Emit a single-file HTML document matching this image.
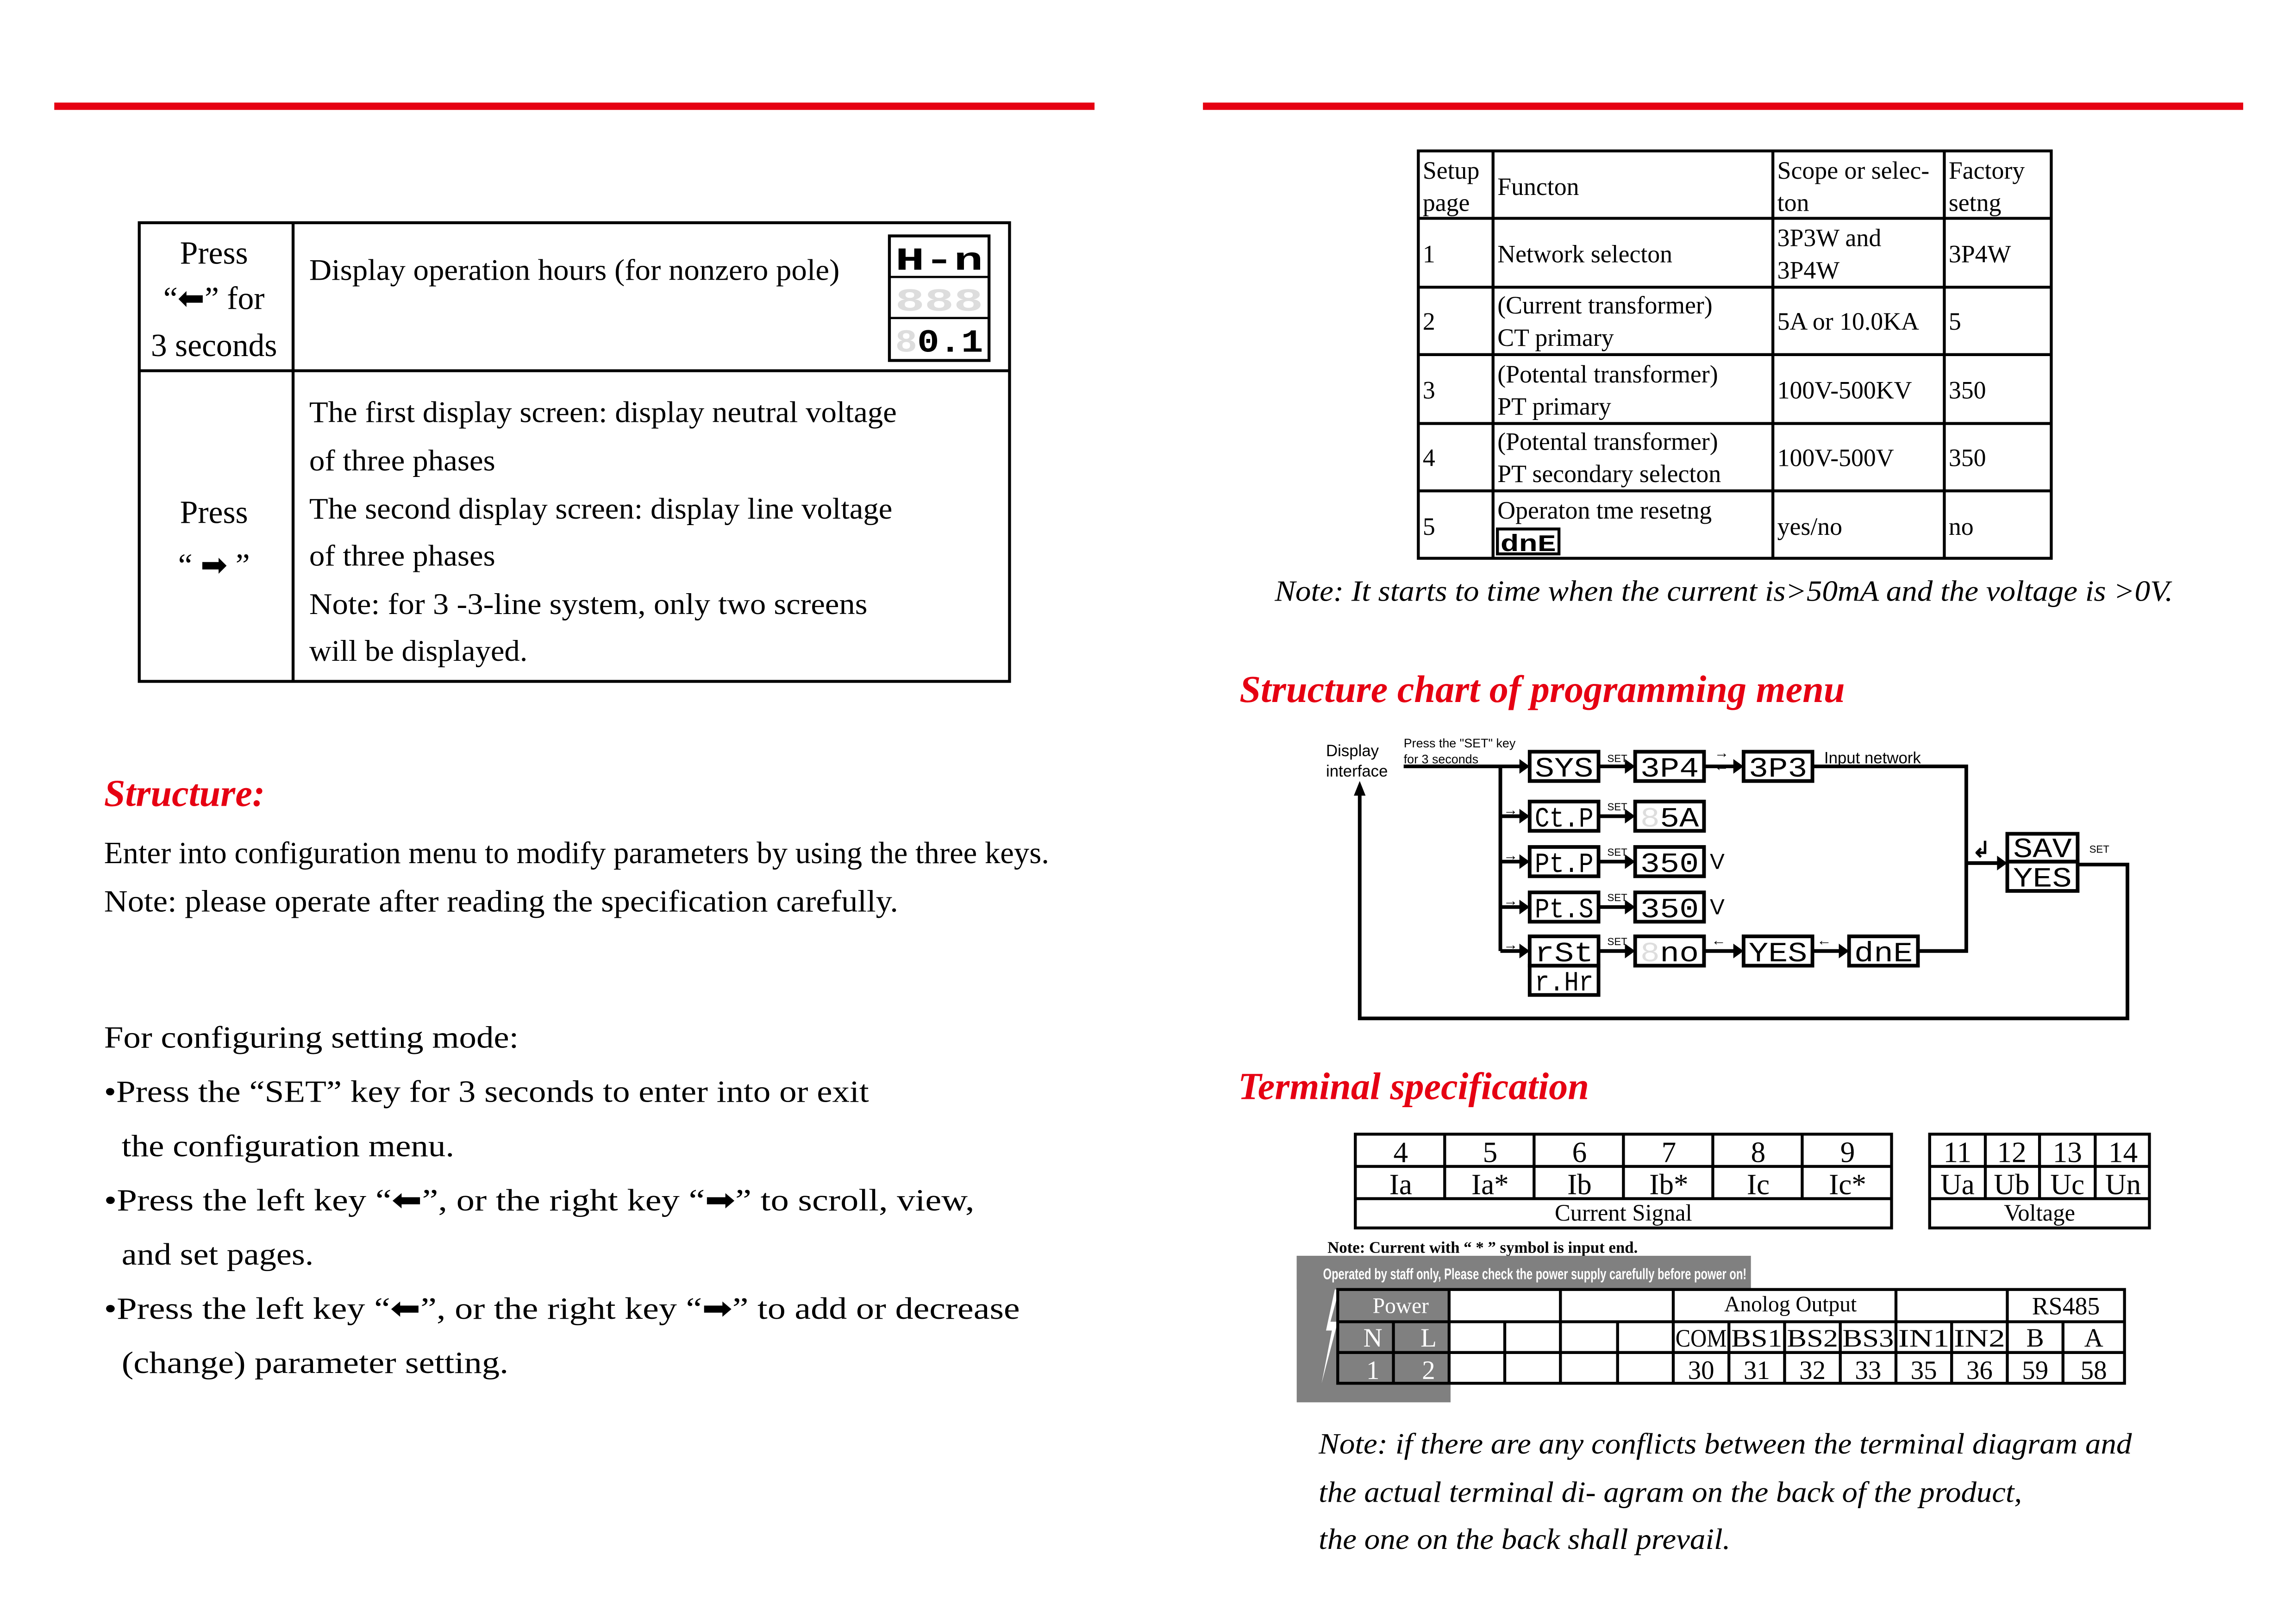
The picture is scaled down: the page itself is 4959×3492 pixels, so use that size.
<!DOCTYPE html>
<html><head><meta charset="utf-8"><style>html,body{margin:0;padding:0;background:#fff}svg{display:block}</style></head>
<body>
<svg xmlns="http://www.w3.org/2000/svg" width="4959" height="3492" viewBox="0 0 1567 1103.5">
<rect width="1567" height="1103.5" fill="#fff"/>
<g fill="#e60012"><rect x="37" y="70" width="710" height="5"/><rect x="821" y="70" width="710" height="5"/></g>

<g font-family="Liberation Serif, serif" fill="#000">
<g fill="none" stroke="#000" stroke-width="2"><rect x="95" y="152" width="594" height="313"/><line x1="200" y1="152" x2="200" y2="465"/><line x1="95" y1="253" x2="689" y2="253"/></g>
<g font-size="22" text-anchor="middle">
<text x="146" y="180">Press</text>
<text x="146" y="211">“⬅” for</text>
<text x="146" y="243">3 seconds</text>
<text x="146" y="357">Press</text>
<text x="146" y="393">“ ➡ ”</text>
</g>
<g font-size="20.5">
<text x="211" y="191" textLength="362" lengthAdjust="spacingAndGlyphs">Display operation hours (for nonzero pole)</text>
<text x="211" y="288" textLength="401" lengthAdjust="spacingAndGlyphs">The first display screen: display neutral voltage</text>
<text x="211" y="321" textLength="127" lengthAdjust="spacingAndGlyphs">of three phases</text>
<text x="211" y="354" textLength="398" lengthAdjust="spacingAndGlyphs">The second display screen: display line voltage</text>
<text x="211" y="386" textLength="127" lengthAdjust="spacingAndGlyphs">of three phases</text>
<text x="211" y="419" textLength="381" lengthAdjust="spacingAndGlyphs">Note: for 3   -3-line system, only two screens</text>
<text x="211" y="451" textLength="149" lengthAdjust="spacingAndGlyphs">will be displayed.</text>
</g>
<g><rect x="607" y="161" width="68" height="85" fill="none" stroke="#000" stroke-width="2"/>
<line x1="607" y1="189" x2="675" y2="189" stroke="#000" stroke-width="1.5"/><line x1="607" y1="217" x2="675" y2="217" stroke="#000" stroke-width="1.5"/>
<g font-family="Liberation Mono, monospace" font-weight="bold" font-size="22" text-anchor="middle">
<text x="641" y="184" textLength="60" lengthAdjust="spacingAndGlyphs">H-n</text>
<text x="641" y="212" fill="#ddd" textLength="60" lengthAdjust="spacingAndGlyphs">888</text>
<text x="641" y="240" textLength="60" lengthAdjust="spacingAndGlyphs"><tspan fill="#ddd">8</tspan>0.1</text>
</g></g>

<text x="71" y="550" font-size="26" font-weight="bold" font-style="italic" fill="#e60012">Structure:</text>
<g font-size="21">
<text x="71" y="589" textLength="645" lengthAdjust="spacingAndGlyphs">Enter into configuration menu to modify parameters by using the three keys.</text>
<text x="71" y="622" textLength="542" lengthAdjust="spacingAndGlyphs">Note: please operate after reading the specification carefully.</text>
<text x="71" y="715" textLength="283" lengthAdjust="spacingAndGlyphs">For configuring setting mode:</text>
<text x="71" y="752" textLength="522" lengthAdjust="spacingAndGlyphs">•Press the “SET” key for 3 seconds to enter into or exit</text>
<text x="83" y="789" textLength="227" lengthAdjust="spacingAndGlyphs">the configuration menu.</text>
<text x="71" y="826" textLength="594" lengthAdjust="spacingAndGlyphs">•Press the  left  key “⬅”, or  the right key “➡”  to scroll, view,</text>
<text x="83" y="863" textLength="131" lengthAdjust="spacingAndGlyphs">and set pages.</text>
<text x="71" y="900" textLength="625" lengthAdjust="spacingAndGlyphs">•Press the  left  key “⬅”, or  the right key “➡”  to add or decrease</text>
<text x="83" y="937" textLength="264" lengthAdjust="spacingAndGlyphs">(change)  parameter setting.</text>
</g>

<g fill="none" stroke="#000" stroke-width="2">
<rect x="968" y="103" width="432" height="278"/>
<line x1="1019" y1="103" x2="1019" y2="381"/><line x1="1210" y1="103" x2="1210" y2="381"/><line x1="1327" y1="103" x2="1327" y2="381"/>
<line x1="968" y1="149" x2="1400" y2="149"/><line x1="968" y1="196" x2="1400" y2="196"/><line x1="968" y1="242" x2="1400" y2="242"/><line x1="968" y1="289" x2="1400" y2="289"/><line x1="968" y1="335" x2="1400" y2="335"/>
</g>
<g font-size="17">
<text x="971" y="122">Setup</text><text x="971" y="144">page</text>
<text x="1022" y="133">Functon</text>
<text x="1213" y="122">Scope or selec-</text><text x="1213" y="144">ton</text>
<text x="1330" y="122">Factory</text><text x="1330" y="144">setng</text>
<text x="971" y="179">1</text><text x="1022" y="179">Network selecton</text><text x="1213" y="168">3P3W and</text><text x="1213" y="190">3P4W</text><text x="1330" y="179">3P4W</text>
<text x="971" y="225">2</text><text x="1022" y="214">(Current transformer)</text><text x="1022" y="236">CT primary</text><text x="1213" y="225">5A or 10.0KA</text><text x="1330" y="225">5</text>
<text x="971" y="272">3</text><text x="1022" y="261">(Potental transformer)</text><text x="1022" y="283">PT primary</text><text x="1213" y="272">100V-500KV</text><text x="1330" y="272">350</text>
<text x="971" y="318">4</text><text x="1022" y="307">(Potental transformer)</text><text x="1022" y="329">PT secondary selecton</text><text x="1213" y="318">100V-500V</text><text x="1330" y="318">350</text>
<text x="971" y="365">5</text><text x="1022" y="354">Operaton tme resetng</text><text x="1213" y="365">yes/no</text><text x="1330" y="365">no</text>
</g>
<rect x="1022" y="361" width="42" height="17" fill="none" stroke="#000" stroke-width="2"/>
<text x="1043" y="376" font-family="Liberation Mono, monospace" font-weight="bold" font-size="16" text-anchor="middle" textLength="38" lengthAdjust="spacingAndGlyphs">dnE</text>
<text x="870" y="410" font-size="20" font-style="italic" textLength="613" lengthAdjust="spacingAndGlyphs">Note: It starts to time when the current is&gt;50mA and the voltage is &gt;0V.</text>

<text x="846" y="479" font-size="26" font-weight="bold" font-style="italic" fill="#e60012">Structure chart of programming menu</text>
<text x="845" y="750" font-size="26" font-weight="bold" font-style="italic" fill="#e60012">Terminal specification</text>
</g>

<g font-family="Liberation Sans, sans-serif">
<g stroke="#000" stroke-width="2.5" fill="none">
<polyline points="958,523 1040,523"/>
<line x1="1024" y1="523" x2="1024" y2="649"/>
<line x1="1024" y1="557" x2="1040" y2="557"/><line x1="1024" y1="588" x2="1040" y2="588"/><line x1="1024" y1="619" x2="1040" y2="619"/><line x1="1024" y1="649" x2="1040" y2="649"/>
<line x1="1091" y1="523" x2="1112" y2="523"/><line x1="1163" y1="523" x2="1186" y2="523"/>
<polyline points="1237,523 1342,523 1342,649 1309,649"/>
<line x1="1091" y1="557" x2="1112" y2="557"/><line x1="1091" y1="588" x2="1112" y2="588"/><line x1="1091" y1="619" x2="1112" y2="619"/><line x1="1091" y1="649" x2="1112" y2="649"/>
<line x1="1163" y1="649" x2="1186" y2="649"/><line x1="1237" y1="649" x2="1258" y2="649"/>
<line x1="1342" y1="589" x2="1366" y2="589"/>
<polyline points="1418,590 1452,590 1452,695 928,695 928,540"/>
</g>
<g fill="#000">
<polygon points="1044,523 1037,518 1037,528"/>
<polygon points="1044,557 1037,552 1037,562"/><polygon points="1044,588 1037,583 1037,593"/><polygon points="1044,619 1037,614 1037,624"/><polygon points="1044,649 1037,644 1037,654"/>
<polygon points="1116,523 1109,518 1109,528"/><polygon points="1190,523 1183,518 1183,528"/>
<polygon points="1116,557 1109,552 1109,562"/><polygon points="1116,588 1109,583 1109,593"/><polygon points="1116,619 1109,614 1109,624"/><polygon points="1116,649 1109,644 1109,654"/>
<polygon points="1190,649 1183,644 1183,654"/><polygon points="1262,649 1255,644 1255,654"/>
<polygon points="1370,589 1363,584 1363,594"/>
<polygon points="928,533 924,543 932,543"/>
</g>
<g fill="none" stroke="#000" stroke-width="2.5">
<rect x="1044" y="513" width="47" height="20"/><rect x="1116" y="513" width="47" height="20"/><rect x="1190" y="513" width="47" height="20"/>
<rect x="1044" y="547" width="47" height="20"/><rect x="1116" y="547" width="47" height="20"/>
<rect x="1044" y="578" width="47" height="20"/><rect x="1116" y="578" width="47" height="20"/>
<rect x="1044" y="609" width="47" height="20"/><rect x="1116" y="609" width="47" height="20"/>
<rect x="1044" y="639" width="47" height="20"/><rect x="1044" y="659" width="47" height="20"/>
<rect x="1116" y="639" width="47" height="20"/><rect x="1190" y="639" width="47" height="20"/><rect x="1262" y="639" width="47" height="20"/>
<rect x="1370" y="569" width="48" height="19"/><rect x="1370" y="588" width="48" height="20"/>
</g>
<g font-family="Liberation Mono, monospace" font-size="19" text-anchor="middle" fill="#000">
<text x="1067.5" y="530" textLength="40" lengthAdjust="spacingAndGlyphs">SYS</text>
<text x="1139.5" y="530" textLength="40" lengthAdjust="spacingAndGlyphs">3P4</text>
<text x="1213.5" y="530" textLength="40" lengthAdjust="spacingAndGlyphs">3P3</text>
<text x="1067.5" y="564" textLength="40" lengthAdjust="spacingAndGlyphs">Ct.P</text>
<text x="1139.5" y="564" textLength="40" lengthAdjust="spacingAndGlyphs"><tspan fill="#ddd">8</tspan>5A</text>
<text x="1067.5" y="595" textLength="40" lengthAdjust="spacingAndGlyphs">Pt.P</text>
<text x="1139.5" y="595" textLength="40" lengthAdjust="spacingAndGlyphs">350</text>
<text x="1067.5" y="626" textLength="40" lengthAdjust="spacingAndGlyphs">Pt.S</text>
<text x="1139.5" y="626" textLength="40" lengthAdjust="spacingAndGlyphs">350</text>
<text x="1067.5" y="656" textLength="40" lengthAdjust="spacingAndGlyphs">rSt</text>
<text x="1067.5" y="676" textLength="40" lengthAdjust="spacingAndGlyphs">r.Hr</text>
<text x="1139.5" y="656" textLength="40" lengthAdjust="spacingAndGlyphs"><tspan fill="#ddd">8</tspan>no</text>
<text x="1213.5" y="656" textLength="40" lengthAdjust="spacingAndGlyphs">YES</text>
<text x="1285.5" y="656" textLength="40" lengthAdjust="spacingAndGlyphs">dnE</text>
<text x="1394" y="585" textLength="40" lengthAdjust="spacingAndGlyphs">SAV</text>
<text x="1394" y="605" textLength="40" lengthAdjust="spacingAndGlyphs">YES</text>
</g>
<g font-size="7" fill="#000">
<text x="1097" y="520">SET</text><text x="1097" y="553">SET</text><text x="1097" y="584">SET</text><text x="1097" y="615">SET</text><text x="1097" y="645">SET</text>
<text x="1426" y="582">SET</text>
</g>
<g font-size="15" fill="#000"><text x="1167" y="593">V</text><text x="1167" y="624">V</text></g>
<g font-size="11" fill="#000">
<text x="905" y="516">Display</text><text x="905" y="530">interface</text>
<text x="1245" y="521">Input network</text>
</g>
<g font-size="8.5" fill="#000"><text x="958" y="510">Press the "SET" key</text><text x="958" y="521">for 3 seconds</text></g>
<g font-size="10" fill="#000">
<text x="1170" y="517">→</text><text x="1170" y="526">←</text>
<text x="1026" y="556">→</text><text x="1026" y="587">→</text><text x="1026" y="618">→</text><text x="1026" y="648">→</text>
<text x="1168" y="645">←</text><text x="1240" y="645">←</text>
</g>
<text x="1346" y="585" font-size="15" font-weight="bold" fill="#000">↲</text>
</g>

<g font-family="Liberation Serif, serif" fill="#000">
<g fill="none" stroke="#000" stroke-width="2">
<rect x="925" y="774" width="366" height="64"/>
<line x1="925" y1="796" x2="1291" y2="796"/><line x1="925" y1="818" x2="1291" y2="818"/>
<line x1="986" y1="774" x2="986" y2="818"/><line x1="1047" y1="774" x2="1047" y2="818"/><line x1="1108" y1="774" x2="1108" y2="818"/><line x1="1169" y1="774" x2="1169" y2="818"/><line x1="1230" y1="774" x2="1230" y2="818"/>
<rect x="1317" y="774" width="150" height="64"/>
<line x1="1317" y1="796" x2="1467" y2="796"/><line x1="1317" y1="818" x2="1467" y2="818"/>
<line x1="1355" y1="774" x2="1355" y2="818"/><line x1="1392" y1="774" x2="1392" y2="818"/><line x1="1430" y1="774" x2="1430" y2="818"/>
</g>
<g font-size="20" text-anchor="middle">
<text x="956" y="793">4</text><text x="1017" y="793">5</text><text x="1078" y="793">6</text><text x="1139" y="793">7</text><text x="1200" y="793">8</text><text x="1261" y="793">9</text>
<text x="956" y="815">Ia</text><text x="1017" y="815">Ia*</text><text x="1078" y="815">Ib</text><text x="1139" y="815">Ib*</text><text x="1200" y="815">Ic</text><text x="1261" y="815">Ic*</text>
<text x="1336" y="793">11</text><text x="1373" y="793">12</text><text x="1411" y="793">13</text><text x="1449" y="793">14</text>
<text x="1336" y="815">Ua</text><text x="1373" y="815">Ub</text><text x="1411" y="815">Uc</text><text x="1449" y="815">Un</text>
</g>
<g font-size="16" text-anchor="middle"><text x="1108" y="833">Current Signal</text><text x="1392" y="833">Voltage</text></g>
<text x="906" y="855" font-size="11" font-weight="bold">Note: Current with “ * ” symbol is input end.</text>

<rect x="885" y="857" width="310" height="23" fill="#808080"/>
<rect x="885" y="857" width="105" height="100" fill="#808080"/>
<text x="903" y="873" font-family="Liberation Sans, sans-serif" font-size="10.5" font-weight="bold" fill="#fff" textLength="289" lengthAdjust="spacingAndGlyphs">Operated by staff only, Please check the power supply carefully before power on!</text>
<polygon points="911,880 905,908 909,908 902,944 913,902 908,902 914,880" fill="#fff"/>
<g fill="none" stroke="#000" stroke-width="2">
<rect x="913" y="880" width="537" height="64"/>
<line x1="913" y1="902" x2="1450" y2="902"/><line x1="913" y1="923" x2="1450" y2="923"/>
<line x1="951" y1="902" x2="951" y2="944"/>
<line x1="989" y1="880" x2="989" y2="944"/><line x1="1027" y1="902" x2="1027" y2="944"/>
<line x1="1065" y1="880" x2="1065" y2="944"/><line x1="1104" y1="902" x2="1104" y2="944"/>
<line x1="1142" y1="880" x2="1142" y2="944"/><line x1="1180" y1="902" x2="1180" y2="944"/><line x1="1218" y1="902" x2="1218" y2="944"/><line x1="1256" y1="902" x2="1256" y2="944"/>
<line x1="1294" y1="880" x2="1294" y2="944"/><line x1="1332" y1="902" x2="1332" y2="944"/>
<line x1="1370" y1="880" x2="1370" y2="944"/><line x1="1408" y1="902" x2="1408" y2="944"/>
</g>
<g font-size="15" text-anchor="middle">
<text x="956" y="896" fill="#fff">Power</text>
<text x="1222" y="895">Anolog Output</text>
<text x="1410" y="897" font-size="17">RS485</text>
</g>
<g font-size="18" text-anchor="middle">
<text x="937" y="919" fill="#fff">N</text><text x="975" y="919" fill="#fff">L</text>
<text x="937" y="941" fill="#fff">1</text><text x="975" y="941" fill="#fff">2</text>
<text x="1161" y="919" font-size="17" textLength="35" lengthAdjust="spacingAndGlyphs">COM</text>
<text x="1199" y="919" font-size="17" textLength="35" lengthAdjust="spacingAndGlyphs">BS1</text>
<text x="1237" y="919" font-size="17" textLength="35" lengthAdjust="spacingAndGlyphs">BS2</text>
<text x="1275" y="919" font-size="17" textLength="35" lengthAdjust="spacingAndGlyphs">BS3</text>
<text x="1313" y="919" font-size="17" textLength="35" lengthAdjust="spacingAndGlyphs">IN1</text>
<text x="1351" y="919" font-size="17" textLength="35" lengthAdjust="spacingAndGlyphs">IN2</text>
<text x="1389" y="919">B</text><text x="1429" y="919">A</text>
<text x="1161" y="941">30</text><text x="1199" y="941">31</text><text x="1237" y="941">32</text><text x="1275" y="941">33</text><text x="1313" y="941">35</text><text x="1351" y="941">36</text><text x="1389" y="941">59</text><text x="1429" y="941">58</text>
</g>
<g font-size="20" font-style="italic">
<text x="900" y="992" textLength="555" lengthAdjust="spacingAndGlyphs">Note: if there are any conflicts between the terminal diagram and</text>
<text x="900" y="1025" textLength="480" lengthAdjust="spacingAndGlyphs">the actual terminal di- agram on the back of the product,</text>
<text x="900" y="1057" textLength="281" lengthAdjust="spacingAndGlyphs">the one on the back shall prevail.</text>
</g>
</g>
</svg>
</body></html>
